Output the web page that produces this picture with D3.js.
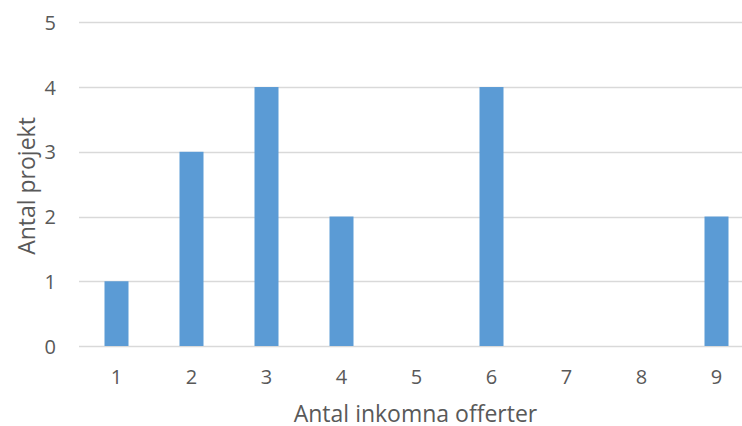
<!DOCTYPE html>
<html><head><meta charset="utf-8">
<script src="https://cdn.jsdelivr.net/npm/d3@7"></script>
<style>body{margin:0;background:#fff}svg{display:block}text{font-family:"Open Sans",sans-serif;fill:#595959}</style>
</head><body><svg id="c" width="742" height="426"></svg>
<script>
const categories = ["1","2","3","4","5","6","7","8","9"];
const values = [1,3,4,2,0,4,0,0,2];
const yTicks = [0,1,2,3,4,5];
const xTitle = "Antal inkomna offerter";
const yTitle = "Antal projekt";

const svg = d3.select("#c");
const mLeft = 79, mRight = 754, mTop = 22.3, mBottom = 346;
const x = d3.scaleBand().domain(categories).range([mLeft, mRight]).paddingInner(0.68).paddingOuter(0.34);
const y = d3.scaleLinear().domain([0,5]).range([mBottom, mTop]);

svg.append("g").selectAll("line").data(yTicks).join("line")
  .attr("x1", mLeft).attr("x2", 742)
  .attr("y1", d => Math.round(y(d))+0.5).attr("y2", d => Math.round(y(d))+0.5)
  .attr("stroke", "#d9d9d9").attr("stroke-width", 1.3);

svg.append("g").selectAll("rect").data(values).join("rect")
  .attr("x", (d,i) => x(categories[i])).attr("width", x.bandwidth())
  .attr("y", d => y(d)).attr("height", d => mBottom - y(d))
  .attr("fill", "#5b9bd5");

const yAxis = d3.axisLeft(y).tickValues(yTicks).tickSize(0).tickPadding(0).tickFormat(d3.format("d"));
const gy = svg.append("g").attr("transform", "translate(56,0)").call(yAxis);
gy.select(".domain").remove();
gy.selectAll("text").attr("font-size", 20).attr("fill", "#595959").attr("dy", "0.35em");

const xAxis = d3.axisBottom(x).tickSize(0).tickPadding(0);
const gx = svg.append("g").attr("transform", "translate(0,370)").call(xAxis);
gx.select(".domain").remove();
gx.selectAll("text").attr("font-size", 20).attr("fill", "#595959").attr("dy", "0.71em");

svg.append("text").attr("x", 415.5).attr("y", 422).attr("text-anchor", "middle")
  .attr("font-size", 23).text(xTitle);
svg.append("text").attr("transform", "translate(35,186) rotate(-90)").attr("text-anchor", "middle")
  .attr("font-size", 23).text(yTitle);
</script></body></html>
